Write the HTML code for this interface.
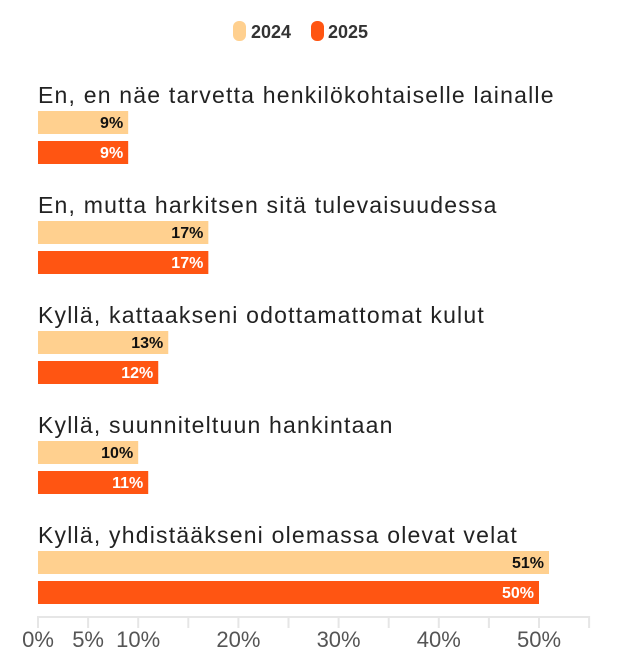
<!DOCTYPE html>
<html><head><meta charset="utf-8"><style>
body{margin:0;background:#fff;font-family:"Liberation Sans",sans-serif}
svg{display:block}
</style></head><body>
<svg id="c" width="628" height="670">
<g>
 <rect x="233" y="21" width="13" height="20" rx="6" fill="#FFD08F"/>
 <text x="251" y="38" font-size="18" font-weight="bold" fill="#333">2024</text>
 <rect x="311" y="21" width="13" height="20" rx="6" fill="#FF5512"/>
 <text x="328" y="38" font-size="18" font-weight="bold" fill="#333">2025</text>
</g>
</svg>
<script>
const categories=["En, en näe tarvetta henkilökohtaiselle lainalle","En, mutta harkitsen sitä tulevaisuudessa","Kyllä, kattaakseni odottamattomat kulut","Kyllä, suunniteltuun hankintaan","Kyllä, yhdistääkseni olemassa olevat velat"];
const values2024=[9,17,13,10,51];
const values2025=[9,17,12,11,50];
const tickValues=[0,5,10,15,20,25,30,35,40,45,50,55];
const tickLabels=["0%","5%","10%","","20%","","30%","","40%","","50%",""];
const svg=document.getElementById('c');
const NS="http://www.w3.org/2000/svg";
const x=v=>38+v*10.02;
const groupY=i=>111+i*110;
function mk(t,a){const e=document.createElementNS(NS,t);for(const k in a)e.setAttribute(k,a[k]);svg.appendChild(e);return e;}
categories.forEach((c,i)=>{
  const t=mk('text',{x:38,y:groupY(i)-8,'font-size':23,'letter-spacing':1.2,fill:'#222'});
  t.textContent=c;
  
  
  [[values2024[i],'#FFD08F','#111',0,'2024'],[values2025[i],'#FF5512','#fff',30,'2025']].forEach(([v,fill,tc,off,yr])=>{
    const r=mk('rect',{x:x(0),y:groupY(i)+off,width:x(v)-x(0),height:23,fill:fill});
    
    
    const l=mk('text',{x:x(v)-5,y:groupY(i)+off+17,'font-size':16,'font-weight':'bold',fill:tc,'text-anchor':'end'});
    l.textContent=v+'%';
    
    
  });
});
const ax=mk('line',{x1:x(0),x2:x(55),y1:617,y2:617,stroke:'#e6e6e6','stroke-width':2});


tickValues.forEach((v,i)=>{
  const tk=mk('line',{x1:x(v),x2:x(v),y1:616,y2:628,stroke:'#e6e6e6','stroke-width':2});
  
  
  if(tickLabels[i]){
    const tl=mk('text',{x:x(v),y:647,'font-size':22,fill:'#555','text-anchor':'middle'});
    tl.textContent=tickLabels[i];
    
    
  }
});
</script>
</body></html>
